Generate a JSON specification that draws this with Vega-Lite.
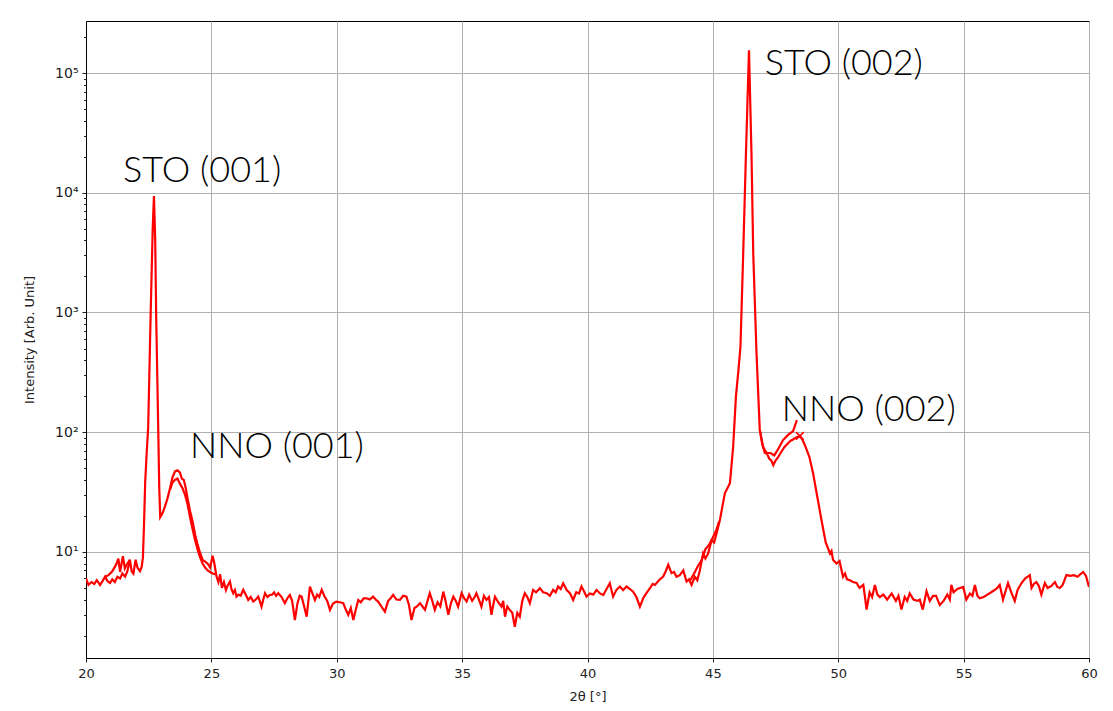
{
  "$schema": "https://vega.github.io/schema/vega-lite/v6.json",
  "width": 1003,
  "height": 637,
  "autosize": {"type": "none"},
  "padding": {"left": 86, "top": 21, "right": 24, "bottom": 53},
  "background": "white",
  "config": {
    "view": {"stroke": "black", "strokeWidth": 1},
    "axis": {
      "labelFont": "DejaVu Sans",
      "labelFontSize": 13,
      "labelColor": "#222",
      "titleFont": "DejaVu Sans",
      "titleFontSize": 13,
      "titleFontWeight": "normal",
      "titleColor": "#222",
      "domainColor": "black",
      "tickColor": "#222",
      "tickSize": 4,
      "gridColor": "#b0b0b0",
      "gridWidth": 1
    }
  },
  "datasets": {
    "scan": [
      {"two_theta": 20.00, "intensity": 6.0},
      {"two_theta": 20.10, "intensity": 5.3},
      {"two_theta": 20.22, "intensity": 5.6},
      {"two_theta": 20.33, "intensity": 5.4},
      {"two_theta": 20.43, "intensity": 5.8},
      {"two_theta": 20.56, "intensity": 5.3},
      {"two_theta": 20.66, "intensity": 5.7},
      {"two_theta": 20.76, "intensity": 6.2},
      {"two_theta": 20.86, "intensity": 5.7},
      {"two_theta": 20.96, "intensity": 5.5},
      {"two_theta": 21.05, "intensity": 5.9},
      {"two_theta": 21.15, "intensity": 5.6},
      {"two_theta": 21.25, "intensity": 6.2},
      {"two_theta": 21.36, "intensity": 6.0},
      {"two_theta": 21.45, "intensity": 6.6},
      {"two_theta": 21.56, "intensity": 6.2},
      {"two_theta": 21.65, "intensity": 6.9},
      {"two_theta": 21.75, "intensity": 8.6},
      {"two_theta": 21.82, "intensity": 6.9},
      {"two_theta": 21.89, "intensity": 6.6},
      {"two_theta": 21.98, "intensity": 8.6},
      {"two_theta": 22.05, "intensity": 7.4},
      {"two_theta": 22.15, "intensity": 6.9},
      {"two_theta": 22.22, "intensity": 7.5},
      {"two_theta": 22.27, "intensity": 9.0},
      {"two_theta": 22.31, "intensity": 16},
      {"two_theta": 22.36, "intensity": 38},
      {"two_theta": 22.42, "intensity": 67},
      {"two_theta": 22.48, "intensity": 110},
      {"two_theta": 22.58, "intensity": 1000},
      {"two_theta": 22.66, "intensity": 5000},
      {"two_theta": 22.71, "intensity": 9400},
      {"two_theta": 22.76, "intensity": 4000},
      {"two_theta": 22.80, "intensity": 900},
      {"two_theta": 22.88, "intensity": 110},
      {"two_theta": 22.92, "intensity": 35},
      {"two_theta": 22.96, "intensity": 19.5},
      {"two_theta": 23.05, "intensity": 21},
      {"two_theta": 23.15, "intensity": 24},
      {"two_theta": 23.25, "intensity": 28},
      {"two_theta": 23.35, "intensity": 34},
      {"two_theta": 23.45, "intensity": 42},
      {"two_theta": 23.55, "intensity": 47},
      {"two_theta": 23.65, "intensity": 48},
      {"two_theta": 23.75, "intensity": 46},
      {"two_theta": 23.82, "intensity": 41},
      {"two_theta": 23.90, "intensity": 40},
      {"two_theta": 23.98, "intensity": 34},
      {"two_theta": 24.05, "intensity": 28},
      {"two_theta": 24.15, "intensity": 22},
      {"two_theta": 24.25, "intensity": 18},
      {"two_theta": 24.35, "intensity": 14},
      {"two_theta": 24.45, "intensity": 11.5},
      {"two_theta": 24.55, "intensity": 9.8},
      {"two_theta": 24.65, "intensity": 8.6},
      {"two_theta": 24.75, "intensity": 8.3},
      {"two_theta": 24.85, "intensity": 8.0},
      {"two_theta": 24.95, "intensity": 7.4},
      {"two_theta": 25.05, "intensity": 9.3},
      {"two_theta": 25.12, "intensity": 8.0},
      {"two_theta": 25.20, "intensity": 6.3},
      {"two_theta": 25.28, "intensity": 5.6},
      {"two_theta": 25.35, "intensity": 6.5},
      {"two_theta": 25.42, "intensity": 5.0},
      {"two_theta": 25.50, "intensity": 5.6},
      {"two_theta": 25.58, "intensity": 4.8},
      {"two_theta": 25.66, "intensity": 5.3},
      {"two_theta": 25.74, "intensity": 5.65},
      {"two_theta": 25.80, "intensity": 4.9},
      {"two_theta": 25.87, "intensity": 4.52},
      {"two_theta": 25.94, "intensity": 4.8},
      {"two_theta": 26.00, "intensity": 4.23},
      {"two_theta": 26.08, "intensity": 4.4},
      {"two_theta": 26.17, "intensity": 4.3},
      {"two_theta": 26.27, "intensity": 4.82},
      {"two_theta": 26.37, "intensity": 4.4},
      {"two_theta": 26.47, "intensity": 3.97},
      {"two_theta": 26.57, "intensity": 4.2},
      {"two_theta": 26.67, "intensity": 3.85},
      {"two_theta": 26.77, "intensity": 4.0},
      {"two_theta": 26.87, "intensity": 4.23},
      {"two_theta": 26.93, "intensity": 3.9},
      {"two_theta": 27.00, "intensity": 3.49},
      {"two_theta": 27.07, "intensity": 4.0},
      {"two_theta": 27.14, "intensity": 4.52},
      {"two_theta": 27.24, "intensity": 4.2},
      {"two_theta": 27.33, "intensity": 4.37},
      {"two_theta": 27.42, "intensity": 4.4},
      {"two_theta": 27.50, "intensity": 4.6},
      {"two_theta": 27.58, "intensity": 4.3},
      {"two_theta": 27.67, "intensity": 4.52},
      {"two_theta": 27.80, "intensity": 4.2},
      {"two_theta": 27.93, "intensity": 3.73},
      {"two_theta": 28.03, "intensity": 4.1},
      {"two_theta": 28.13, "intensity": 4.37},
      {"two_theta": 28.22, "intensity": 3.9},
      {"two_theta": 28.33, "intensity": 2.70},
      {"two_theta": 28.43, "intensity": 3.7},
      {"two_theta": 28.52, "intensity": 4.3},
      {"two_theta": 28.60, "intensity": 4.23},
      {"two_theta": 28.70, "intensity": 3.5},
      {"two_theta": 28.80, "intensity": 2.88},
      {"two_theta": 28.93, "intensity": 5.14},
      {"two_theta": 29.03, "intensity": 4.5},
      {"two_theta": 29.13, "intensity": 3.97},
      {"two_theta": 29.22, "intensity": 4.4},
      {"two_theta": 29.30, "intensity": 4.2},
      {"two_theta": 29.40, "intensity": 4.82},
      {"two_theta": 29.50, "intensity": 4.3},
      {"two_theta": 29.62, "intensity": 3.9},
      {"two_theta": 29.73, "intensity": 3.28},
      {"two_theta": 29.85, "intensity": 3.7},
      {"two_theta": 29.99, "intensity": 3.85},
      {"two_theta": 30.12, "intensity": 3.8},
      {"two_theta": 30.26, "intensity": 3.73},
      {"two_theta": 30.36, "intensity": 3.3},
      {"two_theta": 30.46, "intensity": 2.98},
      {"two_theta": 30.56, "intensity": 3.4},
      {"two_theta": 30.66, "intensity": 2.70},
      {"two_theta": 30.76, "intensity": 3.3},
      {"two_theta": 30.86, "intensity": 3.97},
      {"two_theta": 30.96, "intensity": 3.8},
      {"two_theta": 31.07, "intensity": 4.1},
      {"two_theta": 31.19, "intensity": 4.10},
      {"two_theta": 31.32, "intensity": 4.0},
      {"two_theta": 31.45, "intensity": 4.23},
      {"two_theta": 31.55, "intensity": 4.0},
      {"two_theta": 31.65, "intensity": 3.85},
      {"two_theta": 31.78, "intensity": 3.5},
      {"two_theta": 31.92, "intensity": 3.17},
      {"two_theta": 32.05, "intensity": 3.9},
      {"two_theta": 32.15, "intensity": 4.1},
      {"two_theta": 32.25, "intensity": 4.37},
      {"two_theta": 32.38, "intensity": 4.0},
      {"two_theta": 32.52, "intensity": 3.97},
      {"two_theta": 32.65, "intensity": 4.3},
      {"two_theta": 32.78, "intensity": 4.23},
      {"two_theta": 32.88, "intensity": 3.6},
      {"two_theta": 32.98, "intensity": 2.70},
      {"two_theta": 33.10, "intensity": 3.4},
      {"two_theta": 33.20, "intensity": 3.5},
      {"two_theta": 33.32, "intensity": 3.73},
      {"two_theta": 33.42, "intensity": 3.5},
      {"two_theta": 33.52, "intensity": 3.28},
      {"two_theta": 33.62, "intensity": 3.9},
      {"two_theta": 33.71, "intensity": 4.52},
      {"two_theta": 33.81, "intensity": 3.9},
      {"two_theta": 33.91, "intensity": 3.28},
      {"two_theta": 34.02, "intensity": 3.8},
      {"two_theta": 34.13, "intensity": 3.5},
      {"two_theta": 34.25, "intensity": 4.66},
      {"two_theta": 34.35, "intensity": 3.8},
      {"two_theta": 34.45, "intensity": 2.98},
      {"two_theta": 34.55, "intensity": 3.7},
      {"two_theta": 34.65, "intensity": 4.23},
      {"two_theta": 34.75, "intensity": 3.9},
      {"two_theta": 34.84, "intensity": 3.49},
      {"two_theta": 34.98, "intensity": 4.52},
      {"two_theta": 35.08, "intensity": 4.1},
      {"two_theta": 35.18, "intensity": 3.85},
      {"two_theta": 35.28, "intensity": 4.4},
      {"two_theta": 35.40, "intensity": 3.9},
      {"two_theta": 35.50, "intensity": 4.2},
      {"two_theta": 35.57, "intensity": 4.52},
      {"two_theta": 35.67, "intensity": 4.0},
      {"two_theta": 35.77, "intensity": 3.49},
      {"two_theta": 35.87, "intensity": 4.3},
      {"two_theta": 35.97, "intensity": 3.97},
      {"two_theta": 36.07, "intensity": 4.2},
      {"two_theta": 36.17, "intensity": 2.98},
      {"two_theta": 36.24, "intensity": 3.6},
      {"two_theta": 36.31, "intensity": 4.23},
      {"two_theta": 36.44, "intensity": 3.8},
      {"two_theta": 36.57, "intensity": 3.49},
      {"two_theta": 36.64, "intensity": 3.9},
      {"two_theta": 36.71, "intensity": 2.88},
      {"two_theta": 36.80, "intensity": 3.5},
      {"two_theta": 36.90, "intensity": 3.28},
      {"two_theta": 37.00, "intensity": 3.1},
      {"two_theta": 37.10, "intensity": 2.37},
      {"two_theta": 37.20, "intensity": 3.1},
      {"two_theta": 37.30, "intensity": 2.88},
      {"two_theta": 37.40, "intensity": 3.9},
      {"two_theta": 37.50, "intensity": 4.52},
      {"two_theta": 37.60, "intensity": 4.2},
      {"two_theta": 37.70, "intensity": 3.73},
      {"two_theta": 37.83, "intensity": 4.82},
      {"two_theta": 37.95, "intensity": 4.6},
      {"two_theta": 38.10, "intensity": 4.98},
      {"two_theta": 38.23, "intensity": 4.6},
      {"two_theta": 38.37, "intensity": 4.52},
      {"two_theta": 38.50, "intensity": 4.3},
      {"two_theta": 38.63, "intensity": 4.82},
      {"two_theta": 38.73, "intensity": 4.6},
      {"two_theta": 38.83, "intensity": 5.14},
      {"two_theta": 38.93, "intensity": 4.9},
      {"two_theta": 39.03, "intensity": 5.47},
      {"two_theta": 39.17, "intensity": 4.8},
      {"two_theta": 39.30, "intensity": 4.52},
      {"two_theta": 39.43, "intensity": 3.97},
      {"two_theta": 39.55, "intensity": 4.6},
      {"two_theta": 39.66, "intensity": 4.5},
      {"two_theta": 39.76, "intensity": 5.14},
      {"two_theta": 39.86, "intensity": 4.7},
      {"two_theta": 39.96, "intensity": 4.23},
      {"two_theta": 40.10, "intensity": 4.5},
      {"two_theta": 40.23, "intensity": 4.4},
      {"two_theta": 40.36, "intensity": 4.82},
      {"two_theta": 40.50, "intensity": 4.5},
      {"two_theta": 40.63, "intensity": 4.37},
      {"two_theta": 40.76, "intensity": 4.9},
      {"two_theta": 40.89, "intensity": 5.47},
      {"two_theta": 41.02, "intensity": 4.23},
      {"two_theta": 41.15, "intensity": 4.8},
      {"two_theta": 41.29, "intensity": 5.14},
      {"two_theta": 41.42, "intensity": 4.8},
      {"two_theta": 41.56, "intensity": 5.14},
      {"two_theta": 41.69, "intensity": 4.9},
      {"two_theta": 41.82, "intensity": 4.66},
      {"two_theta": 41.95, "intensity": 4.2},
      {"two_theta": 42.09, "intensity": 3.49},
      {"two_theta": 42.22, "intensity": 4.1},
      {"two_theta": 42.35, "intensity": 4.52},
      {"two_theta": 42.50, "intensity": 5.0},
      {"two_theta": 42.60, "intensity": 5.4},
      {"two_theta": 42.69, "intensity": 5.30},
      {"two_theta": 42.85, "intensity": 5.8},
      {"two_theta": 43.02, "intensity": 6.23},
      {"two_theta": 43.12, "intensity": 6.9},
      {"two_theta": 43.22, "intensity": 7.8},
      {"two_theta": 43.35, "intensity": 6.65},
      {"two_theta": 43.45, "intensity": 6.8},
      {"two_theta": 43.55, "intensity": 6.2},
      {"two_theta": 43.68, "intensity": 6.4},
      {"two_theta": 43.82, "intensity": 7.0},
      {"two_theta": 43.95, "intensity": 5.65},
      {"two_theta": 44.05, "intensity": 5.9},
      {"two_theta": 44.15, "intensity": 5.3},
      {"two_theta": 44.28, "intensity": 6.2},
      {"two_theta": 44.38, "intensity": 5.8},
      {"two_theta": 44.48, "intensity": 7.0},
      {"two_theta": 44.61, "intensity": 9.7},
      {"two_theta": 44.70, "intensity": 8.8},
      {"two_theta": 44.81, "intensity": 9.7},
      {"two_theta": 44.95, "intensity": 12.5},
      {"two_theta": 45.05, "intensity": 12.0},
      {"two_theta": 45.15, "intensity": 14.3},
      {"two_theta": 45.28, "intensity": 18.5},
      {"two_theta": 45.38, "intensity": 24},
      {"two_theta": 45.48, "intensity": 31},
      {"two_theta": 45.58, "intensity": 34},
      {"two_theta": 45.68, "intensity": 37.5},
      {"two_theta": 45.81, "intensity": 76},
      {"two_theta": 45.92, "intensity": 200},
      {"two_theta": 46.02, "intensity": 330},
      {"two_theta": 46.10, "intensity": 520},
      {"two_theta": 46.21, "intensity": 3130},
      {"two_theta": 46.32, "intensity": 21500},
      {"two_theta": 46.44, "intensity": 155000},
      {"two_theta": 46.54, "intensity": 21000},
      {"two_theta": 46.61, "intensity": 3100},
      {"two_theta": 46.74, "intensity": 460},
      {"two_theta": 46.87, "intensity": 105},
      {"two_theta": 46.97, "intensity": 80},
      {"two_theta": 47.07, "intensity": 67},
      {"two_theta": 47.16, "intensity": 66},
      {"two_theta": 47.25, "intensity": 60},
      {"two_theta": 47.33, "intensity": 58},
      {"two_theta": 47.41, "intensity": 53},
      {"two_theta": 47.50, "intensity": 58},
      {"two_theta": 47.60, "intensity": 62},
      {"two_theta": 47.72, "intensity": 68},
      {"two_theta": 47.85, "intensity": 75},
      {"two_theta": 47.98, "intensity": 80},
      {"two_theta": 48.10, "intensity": 85},
      {"two_theta": 48.20, "intensity": 87},
      {"two_theta": 48.30, "intensity": 90},
      {"two_theta": 48.47, "intensity": 93},
      {"two_theta": 48.58, "intensity": 86},
      {"two_theta": 48.70, "intensity": 75},
      {"two_theta": 48.85, "intensity": 62},
      {"two_theta": 49.00, "intensity": 45},
      {"two_theta": 49.15, "intensity": 30},
      {"two_theta": 49.33, "intensity": 18.5},
      {"two_theta": 49.50, "intensity": 12},
      {"two_theta": 49.67, "intensity": 9.7},
      {"two_theta": 49.73, "intensity": 10.2},
      {"two_theta": 49.79, "intensity": 8.6},
      {"two_theta": 49.93, "intensity": 8.0},
      {"two_theta": 50.05, "intensity": 8.4},
      {"two_theta": 50.19, "intensity": 6.2},
      {"two_theta": 50.27, "intensity": 6.6},
      {"two_theta": 50.35, "intensity": 5.9},
      {"two_theta": 50.47, "intensity": 5.8},
      {"two_theta": 50.59, "intensity": 5.6},
      {"two_theta": 50.73, "intensity": 5.5},
      {"two_theta": 50.85, "intensity": 5.0},
      {"two_theta": 51.00, "intensity": 5.3},
      {"two_theta": 51.06, "intensity": 4.3},
      {"two_theta": 51.13, "intensity": 3.3},
      {"two_theta": 51.25, "intensity": 4.6},
      {"two_theta": 51.35, "intensity": 4.2},
      {"two_theta": 51.46, "intensity": 5.3},
      {"two_theta": 51.56, "intensity": 4.4},
      {"two_theta": 51.66, "intensity": 4.2},
      {"two_theta": 51.80, "intensity": 4.4},
      {"two_theta": 51.95, "intensity": 4.0},
      {"two_theta": 52.13, "intensity": 4.5},
      {"two_theta": 52.30, "intensity": 3.9},
      {"two_theta": 52.40, "intensity": 4.3},
      {"two_theta": 52.52, "intensity": 3.3},
      {"two_theta": 52.65, "intensity": 4.2},
      {"two_theta": 52.75, "intensity": 3.9},
      {"two_theta": 52.85, "intensity": 4.5},
      {"two_theta": 53.00, "intensity": 4.0},
      {"two_theta": 53.15, "intensity": 3.9},
      {"two_theta": 53.25, "intensity": 4.0},
      {"two_theta": 53.37, "intensity": 3.3},
      {"two_theta": 53.52, "intensity": 4.7},
      {"two_theta": 53.65, "intensity": 3.9},
      {"two_theta": 53.78, "intensity": 4.3},
      {"two_theta": 53.90, "intensity": 4.3},
      {"two_theta": 54.05, "intensity": 3.6},
      {"two_theta": 54.20, "intensity": 3.9},
      {"two_theta": 54.35, "intensity": 4.4},
      {"two_theta": 54.45, "intensity": 4.0},
      {"two_theta": 54.51, "intensity": 5.3},
      {"two_theta": 54.60, "intensity": 4.6},
      {"two_theta": 54.75, "intensity": 4.9},
      {"two_theta": 54.98, "intensity": 5.1},
      {"two_theta": 55.11, "intensity": 4.0},
      {"two_theta": 55.25, "intensity": 4.5},
      {"two_theta": 55.35, "intensity": 4.3},
      {"two_theta": 55.45, "intensity": 5.3},
      {"two_theta": 55.55, "intensity": 4.3},
      {"two_theta": 55.64, "intensity": 4.1},
      {"two_theta": 55.80, "intensity": 4.2},
      {"two_theta": 55.95, "intensity": 4.4},
      {"two_theta": 56.10, "intensity": 4.6},
      {"two_theta": 56.30, "intensity": 4.9},
      {"two_theta": 56.44, "intensity": 5.3},
      {"two_theta": 56.57, "intensity": 4.0},
      {"two_theta": 56.77, "intensity": 5.5},
      {"two_theta": 56.90, "intensity": 4.6},
      {"two_theta": 57.04, "intensity": 3.9},
      {"two_theta": 57.15, "intensity": 4.8},
      {"two_theta": 57.31, "intensity": 5.5},
      {"two_theta": 57.45, "intensity": 6.0},
      {"two_theta": 57.64, "intensity": 6.4},
      {"two_theta": 57.71, "intensity": 5.0},
      {"two_theta": 57.80, "intensity": 5.4},
      {"two_theta": 57.90, "intensity": 5.6},
      {"two_theta": 58.00, "intensity": 5.2},
      {"two_theta": 58.10, "intensity": 4.4},
      {"two_theta": 58.24, "intensity": 5.5},
      {"two_theta": 58.35, "intensity": 5.0},
      {"two_theta": 58.50, "intensity": 5.2},
      {"two_theta": 58.64, "intensity": 5.6},
      {"two_theta": 58.74, "intensity": 5.1},
      {"two_theta": 58.84, "intensity": 5.0},
      {"two_theta": 58.95, "intensity": 5.3},
      {"two_theta": 59.10, "intensity": 6.4},
      {"two_theta": 59.25, "intensity": 6.3},
      {"two_theta": 59.40, "intensity": 6.4},
      {"two_theta": 59.55, "intensity": 6.2},
      {"two_theta": 59.65, "intensity": 6.5},
      {"two_theta": 59.77, "intensity": 6.8},
      {"two_theta": 59.88, "intensity": 6.3},
      {"two_theta": 60.00, "intensity": 5.1}
    ],
    "overlay": [
      {"piece": "a", "two_theta": 20.76, "intensity": 6.2},
      {"piece": "a", "two_theta": 20.90, "intensity": 6.4},
      {"piece": "a", "two_theta": 21.05, "intensity": 6.9},
      {"piece": "a", "two_theta": 21.15, "intensity": 7.5},
      {"piece": "a", "two_theta": 21.22, "intensity": 8.0},
      {"piece": "a", "two_theta": 21.29, "intensity": 8.8},
      {"piece": "a", "two_theta": 21.36, "intensity": 6.8},
      {"piece": "a", "two_theta": 21.47, "intensity": 9.2},
      {"piece": "a", "two_theta": 21.55, "intensity": 7.3},
      {"piece": "a", "two_theta": 21.65, "intensity": 8.0},
      {"piece": "a", "two_theta": 21.75, "intensity": 8.6},
      {"piece": "b", "two_theta": 23.35, "intensity": 33},
      {"piece": "b", "two_theta": 23.45, "intensity": 38},
      {"piece": "b", "two_theta": 23.55, "intensity": 40},
      {"piece": "b", "two_theta": 23.65, "intensity": 41},
      {"piece": "b", "two_theta": 23.75, "intensity": 37},
      {"piece": "b", "two_theta": 23.85, "intensity": 34},
      {"piece": "b", "two_theta": 23.95, "intensity": 30},
      {"piece": "b", "two_theta": 24.05, "intensity": 25},
      {"piece": "b", "two_theta": 24.15, "intensity": 19.5},
      {"piece": "b", "two_theta": 24.25, "intensity": 15.5},
      {"piece": "b", "two_theta": 24.35, "intensity": 12.5},
      {"piece": "b", "two_theta": 24.45, "intensity": 10.5},
      {"piece": "b", "two_theta": 24.55, "intensity": 9.0},
      {"piece": "b", "two_theta": 24.65, "intensity": 8.0},
      {"piece": "b", "two_theta": 24.75, "intensity": 7.4},
      {"piece": "b", "two_theta": 24.85, "intensity": 7.0},
      {"piece": "b", "two_theta": 24.95, "intensity": 6.8},
      {"piece": "b", "two_theta": 25.05, "intensity": 6.6},
      {"piece": "b", "two_theta": 25.15, "intensity": 6.5},
      {"piece": "c", "two_theta": 44.10, "intensity": 5.8},
      {"piece": "c", "two_theta": 44.25, "intensity": 6.6},
      {"piece": "c", "two_theta": 44.40, "intensity": 7.6},
      {"piece": "c", "two_theta": 44.55, "intensity": 8.5},
      {"piece": "c", "two_theta": 44.70, "intensity": 10.5},
      {"piece": "c", "two_theta": 44.85, "intensity": 11.5},
      {"piece": "c", "two_theta": 45.00, "intensity": 13.2},
      {"piece": "c", "two_theta": 45.15, "intensity": 15.5},
      {"piece": "c", "two_theta": 45.25, "intensity": 18},
      {"piece": "d", "two_theta": 46.87, "intensity": 105},
      {"piece": "d", "two_theta": 47.00, "intensity": 75},
      {"piece": "d", "two_theta": 47.15, "intensity": 67},
      {"piece": "d", "two_theta": 47.30, "intensity": 67},
      {"piece": "d", "two_theta": 47.45, "intensity": 64},
      {"piece": "d", "two_theta": 47.60, "intensity": 72},
      {"piece": "d", "two_theta": 47.80, "intensity": 86},
      {"piece": "d", "two_theta": 48.00, "intensity": 95},
      {"piece": "d", "two_theta": 48.20, "intensity": 102},
      {"piece": "d", "two_theta": 48.35, "intensity": 126}
    ],
    "marker": [
      {"two_theta": 48.47, "intensity": 93}
    ],
    "labels": [
      {"two_theta": 21.48, "intensity": 12400, "label": "STO (001)"},
      {"two_theta": 24.15, "intensity": 60.5, "label": "NNO (001)"},
      {"two_theta": 47.07, "intensity": 96000, "label": "STO (002)"},
      {"two_theta": 47.75, "intensity": 123, "label": "NNO (002)"}
    ]
  },
  "encoding": {
    "x": {
      "field": "two_theta",
      "type": "quantitative",
      "scale": {"domain": [20, 60], "nice": false, "zero": false},
      "axis": {
        "title": "2θ [°]",
        "values": [20, 25, 30, 35, 40, 45, 50, 55, 60],
        "grid": true,
        "labelPadding": 5,
        "titlePadding": 10,
        "labelFlush": false
      }
    }
  },
  "layer": [
    {
      "data": {"name": "scan"},
      "mark": {"type": "line", "color": "#ff0000", "strokeWidth": 2.2, "clip": true},
      "encoding": {
        "y": {
          "field": "intensity",
          "type": "quantitative",
          "scale": {"type": "log", "domain": [1.3, 272000], "nice": false},
          "axis": {
            "orient": "left",
            "title": "Intensity [Arb. Unit]",
            "values": [10, 100, 1000, 10000, 100000],
            "grid": true,
            "labelExpr": "'10' + ['⁰','¹','²','³','⁴','⁵'][round(log(datum.value) / LN10)]",
            "labelFontSize": 14,
            "labelPadding": 4,
            "titlePadding": 18
          }
        }
      }
    },
    {
      "data": {"name": "overlay"},
      "mark": {"type": "line", "color": "#ff0000", "strokeWidth": 2.2, "clip": true},
      "encoding": {
        "detail": {"field": "piece"},
        "y": {
          "field": "intensity",
          "type": "quantitative",
          "scale": {"type": "log", "domain": [1.3, 272000], "nice": false},
          "axis": {
            "orient": "left",
            "title": null,
            "labels": false,
            "grid": false,
            "domain": false,
            "tickSize": 2.5,
            "values": [2, 3, 4, 5, 6, 7, 8, 9, 20, 30, 40, 50, 60, 70, 80, 90, 200, 300, 400, 500, 600, 700, 800, 900, 2000, 3000, 4000, 5000, 6000, 7000, 8000, 9000, 20000, 30000, 40000, 50000, 60000, 70000, 80000, 90000, 200000]
          }
        }
      }
    },
    {
      "data": {"name": "marker"},
      "mark": {"type": "point", "shape": "M-1,-1L1,1M-1,1L1,-1", "color": "#ff0000", "filled": false, "strokeWidth": 1.5, "size": 60, "opacity": 1},
      "encoding": {
        "y": {
          "field": "intensity",
          "type": "quantitative",
          "scale": {"type": "log", "domain": [1.3, 272000], "nice": false},
          "axis": null
        }
      }
    },
    {
      "data": {"name": "labels"},
      "mark": {"type": "text", "align": "left", "baseline": "alphabetic", "font": "Lato", "fontWeight": 300, "fontSize": 36, "color": "black"},
      "encoding": {
        "text": {"field": "label"},
        "y": {
          "field": "intensity",
          "type": "quantitative",
          "scale": {"type": "log", "domain": [1.3, 272000], "nice": false},
          "axis": null
        }
      }
    }
  ],
  "resolve": {"axis": {"y": "independent"}}
}
